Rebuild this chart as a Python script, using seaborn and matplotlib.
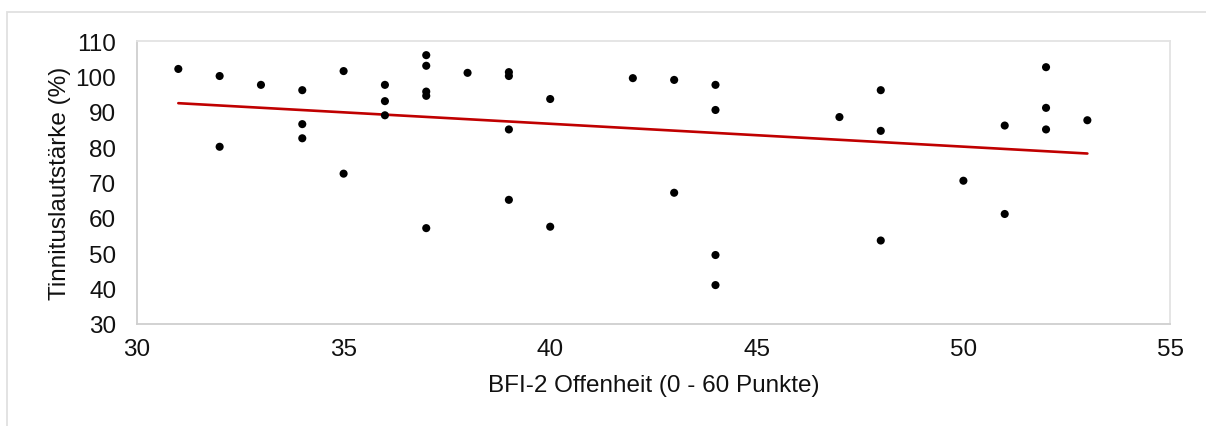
import matplotlib
matplotlib.use("Agg")
import matplotlib.pyplot as plt
import seaborn as sns
import pandas as pd
from matplotlib.patches import Rectangle

bfi_offenheit = [31, 32, 32, 33, 34, 34, 34, 35, 35, 36, 36, 36,
                 37, 37, 37, 37, 37, 38, 39, 39, 39, 39, 40, 40,
                 42, 43, 43, 44, 44, 44, 44, 47, 48, 48, 48,
                 50, 51, 51, 52, 52, 52, 53]
tinnitus_lautstaerke = [102.1, 100.1, 80.1, 97.6, 96.1, 86.5, 82.5, 101.5, 72.5, 97.6, 93.0, 89.0,
                        106.0, 103.0, 95.7, 94.5, 57.1, 101.0, 101.2, 100.1, 85.0, 65.1, 93.6, 57.5,
                        99.5, 99.0, 67.1, 97.6, 90.5, 49.5, 41.0, 88.5, 96.1, 84.6, 53.6,
                        70.5, 86.1, 61.1, 102.6, 91.1, 85.0, 87.6]
x_ticks = [30, 35, 40, 45, 50, 55]
y_ticks = [30, 40, 50, 60, 70, 80, 90, 100, 110]
x_label = "BFI-2 Offenheit (0 - 60 Punkte)"
y_label = "Tinnituslautstärke (%)"

df = pd.DataFrame({"x": bfi_offenheit, "y": tinnitus_lautstaerke})

sns.set_theme(style="white")
plt.rcParams['font.family'] = ['Liberation Sans', 'DejaVu Sans']

fig = plt.figure(figsize=(12.06, 4.27), dpi=100)
fig.patches.append(Rectangle((7 / 1206, -0.1), 1.2, (427 - 13) / 427 + 0.1,
                             transform=fig.transFigure, fill=False,
                             edgecolor="#E0E0E0", linewidth=1.3))
ax = fig.add_axes([137 / 1206, (427 - 325) / 427, (1170 - 137) / 1206, (325 - 42) / 427])

sns.scatterplot(data=df, x="x", y="y", ax=ax, color="black", s=34,
                edgecolor="none", zorder=3)
sns.regplot(data=df, x="x", y="y", ax=ax, scatter=False, ci=None,
            line_kws={"color": "#C00000", "linewidth": 1.9, "zorder": 2})

ax.set_xlim(30, 55)
ax.set_ylim(30, 110)
ax.set_xticks(x_ticks)
ax.set_yticks(y_ticks)
fs = 17.5
ax.tick_params(axis="both", labelsize=fs, colors="#111111", length=0)
ax.tick_params(axis="y", pad=15)
ax.tick_params(axis="x", pad=10)
ax.set_xlabel(x_label, fontsize=fs, color="#111111", labelpad=10)
ax.set_ylabel(y_label, fontsize=fs, color="#111111", labelpad=3)

for side in ["left", "bottom"]:
    ax.spines[side].set_color("#CFCFCF")
    ax.spines[side].set_linewidth(1.3)
for side in ["top", "right"]:
    ax.spines[side].set_color("#E3E3E3")
    ax.spines[side].set_linewidth(1.3)

fig.savefig("out.png", dpi=100)
